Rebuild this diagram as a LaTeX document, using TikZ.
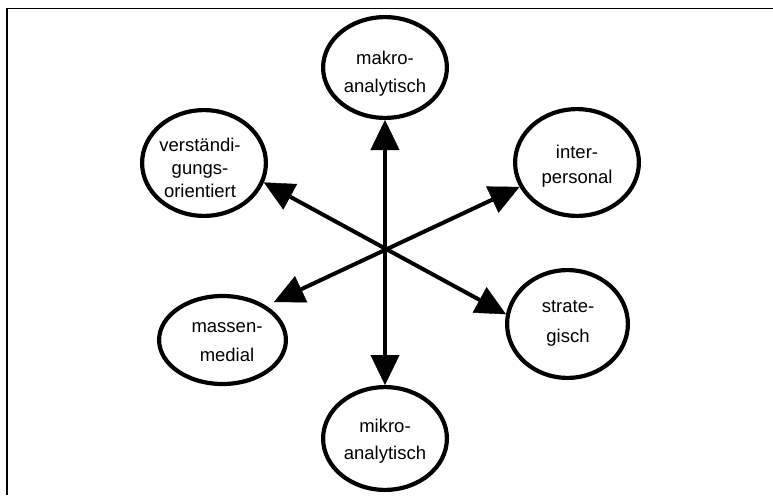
\documentclass[tikz,border=0pt]{standalone}
\usepackage{fontspec}
\setmainfont{Liberation Sans}
\usetikzlibrary{arrows.meta,shapes.geometric}
\begin{document}
\begin{tikzpicture}[x=1pt,y=-1pt,
  oval/.style={draw, ellipse, line width=4.2pt, inner sep=0pt},
  lbl/.style={align=center, inner sep=0pt},
  tip/.tip={Triangle[length=30pt,width=29pt,line width=0.4pt]},
  conn/.style={line width=4pt, tip-tip},
  frame/.style={line width=1.6pt}]
\useasboundingbox (0,0) rectangle (773,495);
% frame
\coordinate (fBL) at (7,495);
\coordinate (fTL) at (7,8.5);
\coordinate (fTR) at (773,8.5);
\draw[frame] (fBL) -- (fTL) -- (fTR);
% ellipses
\node[oval, minimum width=123.8pt, minimum height=100.8pt] (makro)  at (385,67.5) {};
\node[oval, minimum width=123.8pt, minimum height=105.8pt] (verst)  at (204,163) {};
\node[oval, minimum width=123.8pt, minimum height=106.8pt] (inter)  at (577,162.5) {};
\node[oval, minimum width=120.8pt, minimum height=107.8pt] (strat)  at (567.5,324) {};
\node[oval, minimum width=126.8pt, minimum height=88pt]    (massen) at (222.5,340) {};
\node[oval, minimum width=123.8pt, minimum height=102.8pt] (mikro)  at (385,438.5) {};
% labels
\node[lbl, font=\fontsize{18.5}{28}\selectfont] (makrot)  at (385,74)  {makro-\\analytisch};
\node[lbl, font=\fontsize{18.5}{23}\selectfont] (verstt)  at (200,168) {verständi-\\gungs-\\orientiert};
\node[lbl, font=\fontsize{18.5}{25}\selectfont] (intert)  at (577,166) {inter-\\personal};
\node[lbl, font=\fontsize{18.5}{30}\selectfont] (stratt)  at (568,323) {strate-\\gisch};
\node[lbl, font=\fontsize{18.5}{29}\selectfont] (massent) at (227,342.5) {massen-\\medial};
\node[lbl, font=\fontsize{18.5}{27}\selectfont] (mikrot)  at (385,441) {mikro-\\analytisch};
% connectors
\coordinate (mtip) at (274,302);
\draw[conn] (makro.south) -- (mikro.north);
\draw[conn] (verst.-18.7) -- (strat.171.5);
\draw[conn] (inter.-157.5) -- (mtip);
\end{tikzpicture}
\end{document}
